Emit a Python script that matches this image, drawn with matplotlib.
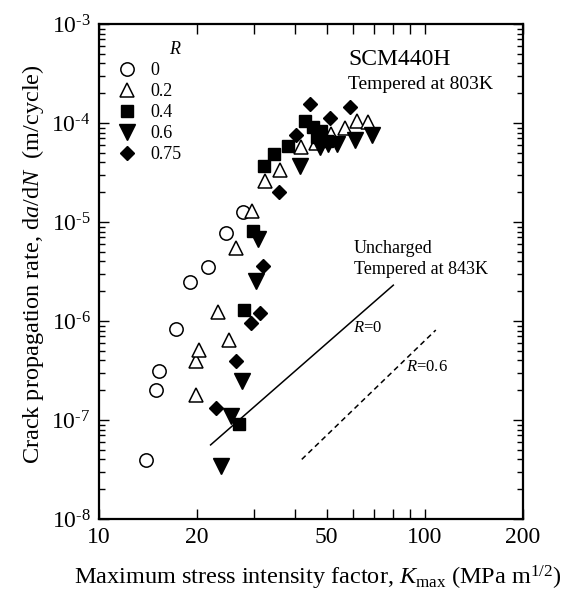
import math
import matplotlib
matplotlib.use("Agg")
import matplotlib.pyplot as plt
from matplotlib.ticker import FixedLocator, FixedFormatter, LogLocator, FuncFormatter, NullFormatter

plt.rcParams['font.family'] = ['Liberation Serif', 'DejaVu Serif']
plt.rcParams['mathtext.fontset'] = 'custom'
plt.rcParams['mathtext.rm'] = 'Liberation Serif'
plt.rcParams['mathtext.it'] = 'Liberation Serif:italic'
plt.rcParams['mathtext.bf'] = 'Liberation Serif:bold'

# ---- data (Kmax in MPa m^1/2, da/dN in m/cycle) ----
r0_k = [13.9, 15.0, 15.3, 17.2, 19.0, 21.6, 24.6, 27.6]
r0_v = [3.9e-8, 2.0e-7, 3.1e-7, 8.3e-7, 2.45e-6, 3.5e-6, 7.7e-6, 1.27e-5]

r02_k = [19.8, 19.9, 20.3, 23.2, 25.0, 26.4, 29.4, 32.4, 35.9, 41.7, 46.2, 51.4, 56.8, 61.9, 66.9]
r02_v = [1.8e-7, 3.9e-7, 5.1e-7, 1.24e-6, 6.4e-7, 5.5e-6, 1.3e-5, 2.6e-5, 3.35e-5, 5.7e-5, 6.3e-5, 7.7e-5, 8.8e-5, 1.05e-4, 1.02e-4]

r04_k = [26.8, 27.9, 29.7, 32.1, 34.4, 38.1, 42.9, 45.3, 48.0, 46.6, 50.1]
r04_v = [9.1e-8, 1.29e-6, 8.1e-6, 3.7e-5, 4.9e-5, 5.9e-5, 1.05e-4, 9.1e-5, 8.3e-5, 7.2e-5, 6.6e-5]

r06_k = [23.7, 25.4, 27.4, 30.3, 30.8, 41.4, 47.6, 50.5, 53.6, 61.2, 68.6]
r06_v = [3.4e-8, 1.1e-7, 2.5e-7, 2.56e-6, 6.8e-6, 3.7e-5, 5.7e-5, 6.2e-5, 6.1e-5, 6.8e-5, 7.6e-5]

r075_k = [22.8, 26.3, 29.2, 31.2, 31.9, 35.7, 40.1, 44.4, 51.1, 58.9]
r075_v = [1.31e-7, 3.9e-7, 9.5e-7, 1.2e-6, 3.6e-6, 2.02e-5, 7.5e-5, 1.54e-4, 1.12e-4, 1.46e-4]

# uncharged reference lines (endpoints)
unc_r0_k = [22.0, 80.0]
unc_r0_v = [5.6e-8, 2.3e-6]
unc_r06_k = [41.9, 108.0]
unc_r06_v = [4.0e-8, 8.1e-7]

legend_labels = ['0', '0.2', '0.4', '0.6', '0.75']
xtick_major = [10, 20, 50, 100, 200]
xtick_minor = [30, 40, 60, 70, 80, 90]

fig = plt.figure(figsize=(5.67, 5.94), dpi=100)
ax = fig.add_axes([0.1746, 0.1263, 0.7478, 0.8333])
ax.set_xscale('log')
ax.set_yscale('log')
ax.set_xlim(10, 200)
ax.set_ylim(1e-8, 1e-3)

open_kw = dict(linestyle='none', markerfacecolor='white', markeredgecolor='black', markeredgewidth=1.1)
fill_kw = dict(linestyle='none', color='black')
ax.plot(r0_k, r0_v, marker='o', markersize=9.6, label=legend_labels[0], **open_kw)
ax.plot(r02_k, r02_v, marker='^', markersize=10.5, label=legend_labels[1], **open_kw)
ax.plot(r04_k, r04_v, marker='s', markersize=8.5, label=legend_labels[2], **fill_kw)
ax.plot(r06_k, r06_v, marker='v', markersize=11, label=legend_labels[3], **fill_kw)
ax.plot(r075_k, r075_v, marker='D', markersize=7.6, label=legend_labels[4], **fill_kw)

ax.plot(unc_r0_k, unc_r0_v, color='black', lw=1.1)
ax.plot(unc_r06_k, unc_r06_v, color='black', lw=1.1, linestyle=(0, (3.5, 2.5)))

# ticks
ax.xaxis.set_major_locator(FixedLocator(xtick_major))
ax.xaxis.set_major_formatter(FixedFormatter([str(v) for v in xtick_major]))
ax.xaxis.set_minor_locator(FixedLocator(xtick_minor))
ax.xaxis.set_minor_formatter(NullFormatter())
ax.yaxis.set_major_locator(LogLocator(base=10, numticks=10))
ax.yaxis.set_minor_locator(LogLocator(base=10, subs=range(2, 10), numticks=20))
ax.yaxis.set_minor_formatter(NullFormatter())
ax.yaxis.set_major_formatter(FuncFormatter(
    lambda v, p: r'$10^{\text{-}%d}$' % abs(round(math.log10(v)))))

ax.tick_params(which='both', direction='in', top=True, right=True, width=1.0, labelsize=17, pad=6)
ax.tick_params(axis='x', which='both', length=7.5)
ax.tick_params(axis='y', which='major', length=7.5)
ax.tick_params(axis='y', which='minor', length=4.5)
for s in ax.spines.values():
    s.set_linewidth(1.6)

ax.set_xlabel(r'Maximum stress intensity factor, $K_{\mathrm{max}}$ (MPa m$^{1/2}$)', fontsize=17.5, labelpad=11)
ax.xaxis.label.set_x(0.515)
ax.set_ylabel(r'Crack propagation rate, d$a$/d$N$  (m/cycle)', fontsize=17.5, labelpad=4)
ax.yaxis.label.set_y(0.515)

leg = ax.legend(loc='upper left', bbox_to_anchor=(0.045, 0.965), frameon=False, fontsize=13,
                title=r'$R$', title_fontsize=13, alignment='right', handlelength=1.0,
                handletextpad=0.8, labelspacing=0.22, borderpad=0, borderaxespad=0)

ax.text(0.587, 0.929, 'SCM440H', transform=ax.transAxes, fontsize=17, va='center', ha='left')
ax.text(0.587, 0.877, 'Tempered at 803K', transform=ax.transAxes, fontsize=14, va='center', ha='left')
ax.text(0.601, 0.547, 'Uncharged', transform=ax.transAxes, fontsize=13, va='center', ha='left')
ax.text(0.601, 0.505, 'Tempered at 843K', transform=ax.transAxes, fontsize=13, va='center', ha='left')
ax.text(0.599, 0.386, r'$R$=0', transform=ax.transAxes, fontsize=12, va='center', ha='left')
ax.text(0.724, 0.307, r'$R$=0.6', transform=ax.transAxes, fontsize=12, va='center', ha='left')

fig.savefig('out.png', dpi=100)
